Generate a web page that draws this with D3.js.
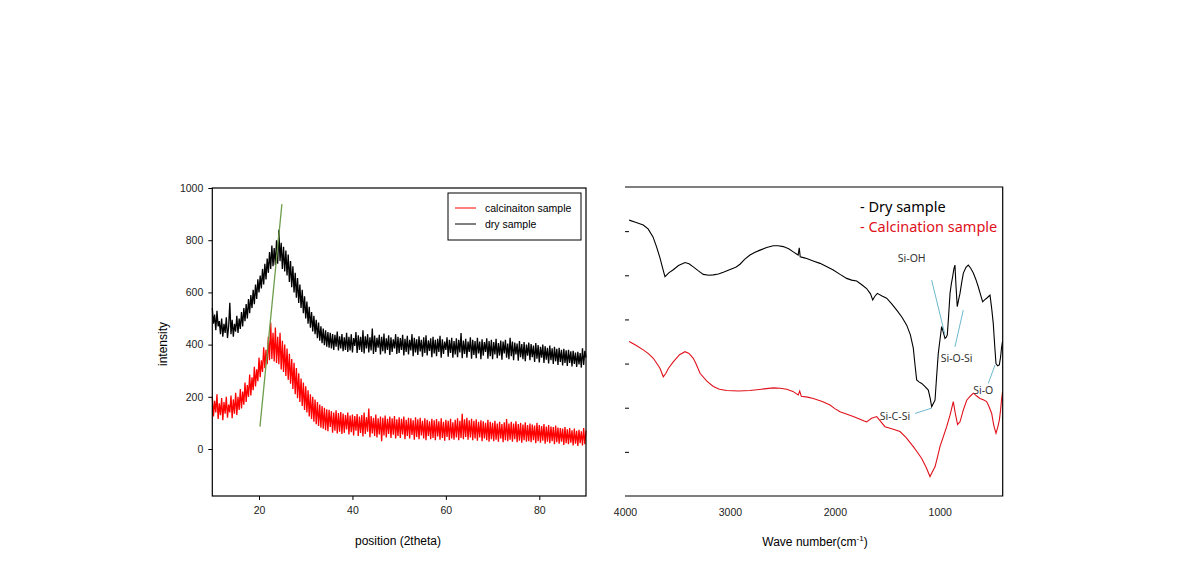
<!DOCTYPE html>
<html>
<head>
<meta charset="utf-8">
<script src="https://cdnjs.cloudflare.com/ajax/libs/d3/7.8.5/d3.min.js"></script>
<style>
    body { margin: 0; background: #fff; }
    .tick text { font-family: "Liberation Sans", Arial, sans-serif; font-size: 10.5px; fill: #222; }
</style>
</head>
<body>
<svg id="chart" width="1190" height="570"></svg>
<script>

// ---- XRD data (left panel), read every 0.25 deg from 10 to 90 ----
var xrdAngles = d3.range(10, 90.001, 0.25);

// one row = 4 degrees
var drySample = [
    540, 480, 515, 455, 530, 470, 490, 440, 500, 430, 480, 445, 505, 425, 470, 560,
    440, 495, 430, 480, 450, 510, 445, 500, 460, 525, 470, 540, 490, 555, 500, 575,
    520, 590, 540, 610, 555, 630, 575, 650, 600, 665, 615, 690, 630, 710, 650, 730,
    675, 755, 690, 780, 700, 770, 705, 800, 710, 840, 720, 790, 690, 775, 680, 760,
    665, 745, 640, 720, 620, 700, 600, 675, 580, 655, 560, 630, 540, 610, 520, 585,
    500, 565, 480, 545, 465, 525, 450, 510, 440, 495, 425, 485, 415, 470, 405, 462,
    398, 455, 392, 448, 388, 445, 385, 440, 380, 438, 392, 450, 378, 432, 385, 440,
    375, 428, 380, 445, 372, 430, 378, 440, 370, 425, 395, 448, 368, 436, 380, 430,
    372, 455, 366, 432, 385, 440, 370, 428, 378, 462, 364, 435, 372, 426, 388, 438,
    362, 430, 375, 442, 366, 424, 380, 436, 360, 428, 372, 420, 385, 440, 364, 430,
    368, 425, 380, 438, 358, 422, 372, 434, 362, 418, 378, 440, 356, 426, 370, 420,
    360, 432, 374, 418, 354, 428, 368, 436, 358, 416, 376, 424, 352, 430, 366, 418,
    356, 422, 372, 434, 350, 420, 364, 412, 380, 428, 354, 418, 368, 426, 350, 414,
    362, 424, 352, 418, 370, 444, 348, 416, 364, 422, 350, 412, 372, 428, 346, 418,
    360, 414, 348, 426, 366, 412, 344, 420, 358, 410, 372, 424, 346, 414, 356, 418,
    344, 410, 362, 422, 348, 406, 358, 416, 342, 412, 366, 418, 350, 404, 344, 426,
    356, 412, 340, 408, 362, 404, 338, 414, 352, 402, 344, 410, 336, 400, 358, 408,
    340, 402, 352, 396, 334, 406, 346, 398, 332, 392, 350, 400, 330, 394, 342, 388,
    328, 396, 340, 386, 326, 392, 336, 384, 322, 388, 334, 380, 320, 384, 330, 378,
    318, 380, 330, 374, 316, 376, 326, 370, 314, 372, 324, 368, 312, 386, 322, 376,
    350
];

var calcSample = [
    200, 125, 185, 140, 210, 115, 175, 130, 195, 110, 180, 135, 200, 120, 170, 140,
    205, 118, 190, 135, 215, 130, 200, 150, 230, 155, 220, 170, 255, 180, 245, 200,
    285, 205, 275, 225, 315, 240, 305, 260, 350, 275, 340, 295, 390, 310, 380, 325,
    430, 340, 485, 345, 445, 335, 465, 330, 430, 325, 445, 305, 415, 295, 400, 280,
    385, 265, 365, 250, 345, 230, 330, 210, 310, 195, 290, 180, 270, 165, 255, 150,
    240, 140, 225, 125, 210, 115, 200, 105, 190, 95, 180, 88, 170, 82, 165, 78,
    158, 72, 152, 68, 150, 85, 145, 62, 140, 70, 148, 60, 138, 66, 142, 58,
    136, 62, 130, 75, 140, 56, 128, 64, 132, 52, 126, 70, 134, 50, 124, 62,
    130, 48, 140, 58, 122, 66, 155, 45, 126, 60, 120, 50, 132, 44, 118, 56,
    124, 30, 120, 52, 128, 44, 116, 58, 124, 42, 118, 55, 126, 40, 114, 50,
    122, 42, 116, 56, 124, 38, 112, 50, 120, 40, 118, 54, 110, 36, 122, 46,
    114, 38, 120, 52, 108, 40, 118, 34, 112, 50, 106, 38, 116, 42, 110, 34,
    115, 48, 106, 36, 118, 42, 104, 32, 112, 46, 108, 34, 116, 40, 102, 36,
    112, 44, 118, 34, 108, 42, 135, 38, 114, 46, 120, 36, 110, 44, 116, 34,
    108, 40, 114, 32, 104, 44, 110, 30, 106, 40, 100, 34, 112, 28, 104, 38,
    100, 30, 108, 36, 98, 28, 104, 40, 96, 26, 102, 34, 115, 30, 98, 36,
    104, 28, 98, 38, 106, 26, 96, 32, 100, 24, 94, 34, 102, 28, 92, 30,
    98, 26, 94, 34, 90, 22, 100, 30, 92, 24, 88, 32, 96, 20, 86, 28,
    92, 22, 86, 30, 84, 18, 90, 26, 82, 20, 80, 28, 78, 16, 84, 22,
    76, 18, 80, 24, 72, 14, 78, 20, 70, 12, 74, 22, 68, 14, 80, 18,
    70
];

// green guide line across the peaks
var peakGuide = [[20.2, 86], [24.9, 938]];

var xrdTicksY = [0, 200, 400, 600, 800, 1000];
var xrdTicksX = [20, 40, 60, 80];

// ---- FTIR data (right panel): [wave number, transmittance] ----
var ftirDry = [
    [3960, 62.5], [3900, 62.0], [3826, 61.4], [3780, 60.5], [3733, 58.7], [3700, 56.5],
    [3666, 53.9], [3640, 51.5], [3619, 49.7], [3580, 50.6], [3543, 51.2], [3490, 52.2],
    [3428, 52.9], [3390, 52.6], [3349, 51.9], [3300, 51.0], [3254, 50.2], [3200, 50.0],
    [3158, 50.1], [3110, 50.3], [3063, 50.7], [3010, 51.2], [2968, 51.6], [2940, 51.9],
    [2904, 52.5], [2860, 53.6], [2809, 54.6], [2760, 55.2], [2713, 55.7], [2650, 56.3],
    [2587, 56.7], [2540, 56.7], [2491, 56.5], [2440, 56.0], [2396, 55.3], [2350, 54.6],
    [2339, 56.2], [2330, 54.2], [2300, 54.0], [2268, 53.8], [2200, 53.2], [2141, 52.7],
    [2080, 52.0], [2015, 51.2], [1950, 50.2], [1887, 49.3], [1840, 48.9], [1792, 48.7],
    [1740, 47.8], [1697, 47.0], [1660, 45.8], [1639, 44.4], [1620, 45.2], [1595, 45.9],
    [1550, 45.3], [1506, 44.8], [1460, 43.6], [1410, 42.1], [1360, 40.5], [1315, 38.7],
    [1280, 36.5], [1252, 33.5], [1235, 29.5], [1220, 26.3], [1195, 25.8], [1172, 25.5],
    [1140, 24.8], [1109, 24.0], [1090, 22.0], [1077, 20.2], [1060, 21.0], [1045, 21.7],
    [1030, 27.0], [1014, 32.3], [1000, 35.0], [982, 38.4], [965, 37.0], [950, 35.7],
    [938, 36.0], [928, 36.5], [915, 41.0], [902, 45.9], [890, 48.0], [877, 49.7],
    [865, 51.5], [855, 52.3], [845, 47.5], [833, 42.9], [820, 44.5], [807, 45.9],
    [790, 48.5], [775, 50.5], [750, 51.8], [728, 52.3], [705, 51.6], [680, 50.5],
    [655, 49.0], [633, 47.4], [610, 45.5], [591, 44.0], [570, 44.5], [553, 44.8],
    [535, 45.2], [521, 45.5], [505, 42.5], [490, 39.1], [476, 34.0], [464, 30.0],
    [448, 29.5], [432, 29.7], [420, 31.5], [410, 33.8], [402, 35.0]
];

var ftirCalc = [
    [3960, 35.0], [3900, 34.2], [3826, 33.1], [3780, 32.3], [3730, 31.2], [3690, 29.8],
    [3666, 28.9], [3635, 27.0], [3610, 27.8], [3587, 28.9], [3540, 30.4], [3480, 32.0],
    [3428, 32.7], [3390, 32.3], [3349, 31.2], [3320, 29.8], [3285, 27.8], [3220, 26.0],
    [3158, 24.8], [3100, 24.2], [3031, 23.9], [2920, 23.8], [2809, 23.9], [2700, 24.2],
    [2587, 24.5], [2520, 24.4], [2459, 24.2], [2400, 23.7], [2348, 22.9], [2335, 23.8],
    [2320, 22.6], [2260, 22.4], [2205, 22.1], [2120, 21.4], [2046, 20.6], [2000, 19.8],
    [1951, 19.1], [1890, 18.6], [1824, 18.0], [1760, 17.4], [1720, 17.0], [1697, 16.8],
    [1650, 17.6], [1601, 18.0], [1560, 16.8], [1522, 15.7], [1450, 15.2], [1379, 14.6],
    [1320, 13.2], [1252, 11.2], [1210, 9.8], [1172, 8.5], [1130, 6.5], [1093, 4.4],
    [1070, 5.5], [1045, 6.6], [1020, 9.0], [998, 11.2], [965, 13.5], [934, 15.7],
    [900, 18.5], [871, 21.4], [850, 18.5], [830, 16.2], [807, 16.8], [775, 19.5],
    [743, 21.7], [710, 22.6], [680, 23.3], [650, 22.7], [617, 22.1], [585, 21.8],
    [553, 21.4], [530, 20.2], [505, 18.7], [485, 16.0], [464, 14.2], [448, 15.5],
    [432, 17.2], [420, 19.5], [410, 22.1], [402, 23.5]
];

var ftirTicksX = [4000, 3000, 2000, 1000];
var ftirTicksY = [10, 20, 30, 40, 50, 60];

// band labels: text, label position, leader line from -> to (wave number, value)
var bandLabels = [
    {name: "Si-OH",   lx: 1267, ly: 53.9, from: [1077, 48.9], to: [950, 36.5]},
    {name: "Si-O-Si", lx: 839,  ly: 31.2, from: [855, 33.8],  to: [776, 42.1]},
    {name: "Si-C-Si", lx: 1427, ly: 18.1, from: [1236, 18.7], to: [1077, 19.9]},
    {name: "Si-O",    lx: 585,  ly: 24.0, from: [537, 25.5],  to: [473, 29.7]}
];

var svg = d3.select("#chart");
var font = "'Liberation Sans', Arial, sans-serif";

// ================= left panel : XRD =================
var xL = d3.scaleLinear().domain([10, 90]).range([212.3, 586]);
var yL = d3.scaleLinear().domain([-180, 1000]).range([496, 188]);

var left = svg.append("g");

var lineL = d3.line()
    .x(function (d) { return xL(d[0]); })
    .y(function (d) { return yL(d[1]); });

left.append("path")
    .datum(xrdAngles.map(function (a, i) { return [a, drySample[i]]; }))
    .attr("d", lineL)
    .attr("fill", "none")
    .attr("stroke", "#000")
    .attr("stroke-width", 1.3);

left.append("path")
    .datum(xrdAngles.map(function (a, i) { return [a, calcSample[i]]; }))
    .attr("d", lineL)
    .attr("fill", "none")
    .attr("stroke", "#f00")
    .attr("stroke-width", 1.3);

left.append("path")
    .datum(peakGuide)
    .attr("d", lineL)
    .attr("fill", "none")
    .attr("stroke", "#6f9e4c")
    .attr("stroke-width", 1.3);

left.append("rect")
    .attr("x", xL(10))
    .attr("y", yL(1000))
    .attr("width", xL(90) - xL(10))
    .attr("height", yL(-180) - yL(1000))
    .attr("fill", "none")
    .attr("stroke", "#000")
    .attr("stroke-width", 1.2);

left.append("g")
    .attr("transform", "translate(" + xL(10) + ",0)")
    .call(d3.axisLeft(yL).tickValues(xrdTicksY).tickSize(4).tickPadding(5).tickFormat(d3.format("d")))
    .call(function (g) { g.select(".domain").remove(); });

left.append("g")
    .attr("transform", "translate(0," + yL(-180) + ")")
    .call(d3.axisBottom(xL).tickValues(xrdTicksX).tickSize(4).tickPadding(7))
    .call(function (g) { g.select(".domain").remove(); });

left.append("text")
    .attr("transform", "translate(167,344) rotate(-90)")
    .attr("text-anchor", "middle")
    .style("font-family", font)
    .style("font-size", "12px")
    .text("intensity");

left.append("text")
    .attr("x", 398)
    .attr("y", 545)
    .attr("text-anchor", "middle")
    .style("font-family", font)
    .style("font-size", "12px")
    .text("position (2theta)");

// legend box
var legL = left.append("g");
legL.append("rect")
    .attr("x", 448).attr("y", 193)
    .attr("width", 133).attr("height", 47)
    .attr("fill", "#fff")
    .attr("stroke", "#000");

[["calcinaiton sample", "#f00"], ["dry sample", "#000"]].forEach(function (d, i) {
    var yy = 208 + i * 16;
    legL.append("line")
        .attr("x1", 455).attr("x2", 476)
        .attr("y1", yy).attr("y2", yy)
        .attr("stroke", d[1]);
    legL.append("text")
        .attr("x", 485).attr("y", yy + 3.5)
        .style("font-family", font)
        .style("font-size", "10.5px")
        .text(d[0]);
});

// ================= right panel : FTIR =================
var xR = d3.scaleLinear().domain([4000, 400]).range([625, 1002.7]);
var yR = d3.scaleLinear().domain([0, 70]).range([496, 187]);

var right = svg.append("g");

var lineR = d3.line()
    .x(function (d) { return xR(d[0]); })
    .y(function (d) { return yR(d[1]); });

right.append("path")
    .datum(ftirDry)
    .attr("d", lineR)
    .attr("fill", "none")
    .attr("stroke", "#000")
    .attr("stroke-width", 1.1);

right.append("path")
    .datum(ftirCalc)
    .attr("d", lineR)
    .attr("fill", "none")
    .attr("stroke", "#e0101a")
    .attr("stroke-width", 1.1);

// frame without the left side
right.append("path")
    .attr("d", "M" + xR(4000) + "," + yR(70) + "H" + xR(400) + "V" + yR(0) + "H" + xR(4000))
    .attr("fill", "none")
    .attr("stroke", "#000")
    .attr("stroke-width", 1.2);

right.append("g")
    .attr("transform", "translate(" + xR(4000) + ",0)")
    .call(d3.axisLeft(yR).tickValues(ftirTicksY).tickSize(-4).tickFormat(""))
    .call(function (g) { g.select(".domain").remove(); });

right.append("g")
    .attr("transform", "translate(0," + yR(0) + ")")
    .call(d3.axisBottom(xR).tickValues(ftirTicksX).tickSize(0).tickPadding(13).tickFormat(d3.format("d")))
    .call(function (g) { g.select(".domain").remove(); });

var xt = right.append("text")
    .attr("x", 815)
    .attr("y", 546)
    .attr("text-anchor", "middle")
    .style("font-family", font)
    .style("font-size", "12px");
xt.append("tspan").text("Wave number(cm");
xt.append("tspan").attr("dy", -5).style("font-size", "8px").text("-1");
xt.append("tspan").attr("dy", 5).text(")");

// band annotations
bandLabels.forEach(function (b) {
    right.append("line")
        .attr("x1", xR(b.from[0])).attr("y1", yR(b.from[1]))
        .attr("x2", xR(b.to[0])).attr("y2", yR(b.to[1]))
        .attr("stroke", "#6cb8cc")
        .attr("stroke-width", 1);
    right.append("text")
        .attr("x", xR(b.lx)).attr("y", yR(b.ly))
        .attr("text-anchor", "middle")
        .attr("dy", "0.35em")
        .style("font-family", "'Noto Sans', sans-serif")
        .style("font-size", "10.5px")
        .style("fill", "#333")
        .text(b.name);
});

// legend text
right.append("text")
    .attr("x", 860).attr("y", 212)
    .style("font-family", "'Noto Sans', sans-serif")
    .style("font-size", "14.5px")
    .style("fill", "#000")
    .text("- Dry sample");
right.append("text")
    .attr("x", 860).attr("y", 232)
    .style("font-family", "'Noto Sans', sans-serif")
    .style("font-size", "14.5px")
    .style("fill", "#e0101a")
    .text("- Calcination sample");

</script>
</body>
</html>
